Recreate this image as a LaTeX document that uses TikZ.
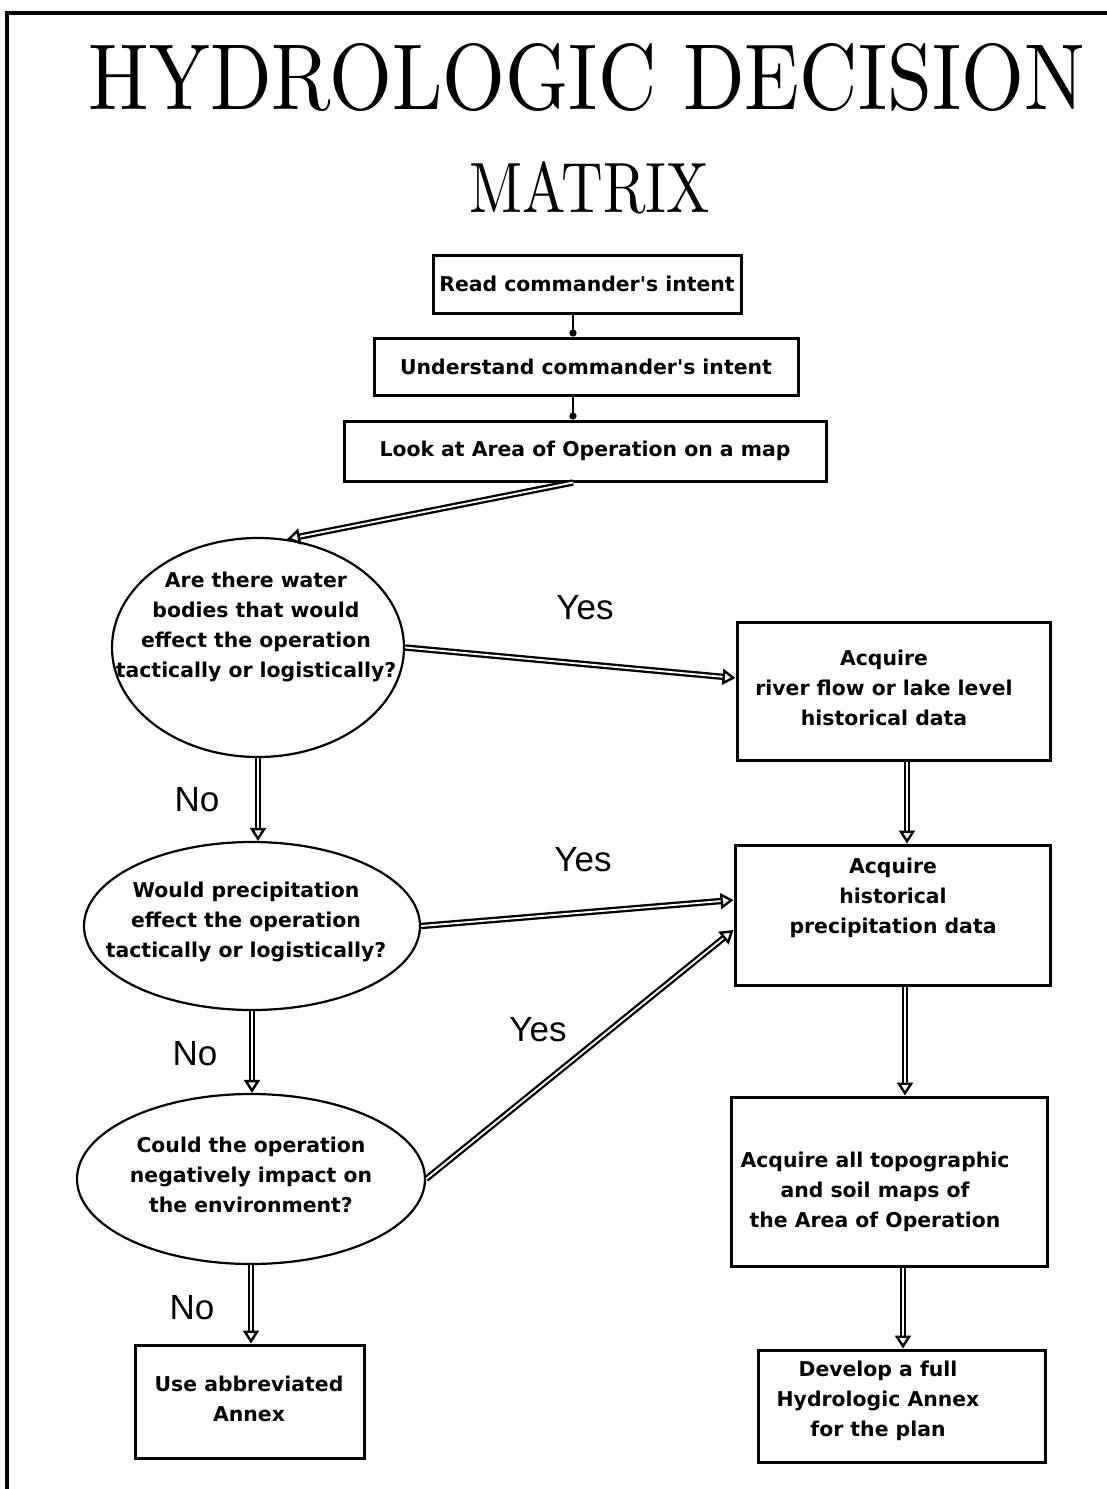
\documentclass[tikz,border=0pt]{standalone}
\usepackage{fontspec}
\usepackage{graphicx}
\usetikzlibrary{arrows.meta,shapes.geometric,calc}
\newfontfamily\boxfont{DejaVu Sans}
\newfontfamily\lblfont{Liberation Sans}
\begin{document}
\begin{tikzpicture}[x=0.5pt,y=-0.5pt,
  box/.style={draw, rectangle, line width=1.5pt, inner sep=0pt},
  dec/.style={draw, ellipse, line width=1.1pt, inner sep=0pt},
  txt/.style={align=center, inner sep=0pt, font=\boxfont\bfseries\fontsize{10.2}{15}\selectfont},
  yn/.style={inner sep=0pt, font=\lblfont\fontsize{17.5}{20}\selectfont},
  conn/.style={double=white, double distance=0.9pt, line width=1.15pt,
     -{Triangle[open, length=6.5pt, width=8pt, line width=1.2pt]}},
  thinconn/.style={line width=1.4pt, -{Circle[length=3.5pt]}}
]
\useasboundingbox (0,0) rectangle (1107,1489);
% frame (top and left only)
\coordinate (fa) at (1107,13);
\coordinate (fb) at (7,13);
\coordinate (fc) at (7,1489);
\draw[line width=1.6pt] (fa) -- (fb) -- (fc);

% title
\node[inner sep=0pt] (title) at (587,78) {\resizebox{498pt}{33pt}{HYDROLOGIC DECISION}};
\node[inner sep=0pt] (sub) at (590,188) {\resizebox{120pt}{25.5pt}{MATRIX}};

% top boxes
\node[box, minimum width=154pt, minimum height=29pt, font=\boxfont\bfseries\fontsize{10.2}{15}\selectfont] (b1) at (587,284) {Read commander's intent};
\node[box, minimum width=212pt, minimum height=28.5pt, font=\boxfont\bfseries\fontsize{10.2}{15}\selectfont] (b2) at (586,366.5) {Understand commander's intent};
\node[box, minimum width=241pt, minimum height=30pt, font=\boxfont\bfseries\fontsize{10.2}{15}\selectfont] (b3) at (585,451) {Look at Area of Operation on a map};

% decisions
\node[dec, minimum width=146pt, minimum height=109.5pt] (e1) at (258,647.5) {};
\node[txt] (e1t) at (256,627) {Are there water\\bodies that would\\effect the operation\\tactically or logistically?};
\node[dec, minimum width=168pt, minimum height=84pt] (e2) at (252,926) {};
\node[txt] (e2t) at (246,922) {Would precipitation\\effect the operation\\tactically or logistically?};
\node[dec, minimum width=174pt, minimum height=85pt] (e3) at (251,1179) {};
\node[txt] (e3t) at (251,1175) {Could the operation\\negatively impact on\\the environment?};

% right boxes
\node[box, minimum width=156.5pt, minimum height=69pt] (b4) at (893.5,691) {};
\node[txt] (b4t) at (884,688) {Acquire\\river flow or lake level\\historical data};
\node[box, minimum width=157.5pt, minimum height=70pt] (b5) at (892.5,915) {};
\node[txt] (b5t) at (893,898) {Acquire\\historical\\precipitation data};
\node[box, minimum width=158pt, minimum height=84.5pt] (b6) at (889,1181.5) {};
\node[txt] (b6t) at (875,1192) {Acquire all topographic\\and soil maps of\\the Area of Operation};
\node[box, minimum width=143.5pt, minimum height=56pt] (b7) at (901.5,1406) {};
\node[txt] (b7t) at (878,1401) {Develop a full\\Hydrologic Annex\\for the plan};
\node[box, minimum width=114.5pt, minimum height=56.5pt] (b8) at (249.5,1401.5) {};
\node[txt] (b8t) at (249,1399) {Use abbreviated\\Annex};

% labels
\node[yn] (y1) at (585,608) {Yes};
\node[yn] (y2) at (583,860) {Yes};
\node[yn] (y3) at (538,1030) {Yes};
\node[yn] (n1) at (197,800) {No};
\node[yn] (n2) at (195,1054) {No};
\node[yn] (n3) at (192,1308) {No};

% connectors
\draw[thinconn] ([xshift=-7pt]b1.south) -- ([xshift=-7pt]b1.south |- b2.north);
\draw[thinconn] ([xshift=-6.5pt]b2.south) -- ([xshift=-6.5pt]b2.south |- b3.north);
\draw[conn] ([xshift=-6pt]b3.south) -- (e1.75);
\draw[conn] (e1.east) -- ([yshift=6.5pt]b4.west);
\draw[conn] (e1.south) -- (e1.south |- e2.north);
\draw[conn] (e2.east) -- ([yshift=7.5pt]b5.west);
\draw[conn] ([xshift=6.75pt]b4.south) -- ([xshift=6.75pt]b4.south |- b5.north);
\draw[conn] (e2.south) -- (e2.south |- e3.north);
\draw[conn] (e3.east) -- ([yshift=-7.5pt]b5.west);
\draw[conn] ([xshift=6.25pt]b5.south) -- ([xshift=6.25pt]b5.south |- b6.north);
\draw[conn] ([xshift=7pt]b6.south) -- ([xshift=7pt]b6.south |- b7.north);
\draw[conn] (e3.south) -- (e3.south |- b8.north);
\end{tikzpicture}
\end{document}
